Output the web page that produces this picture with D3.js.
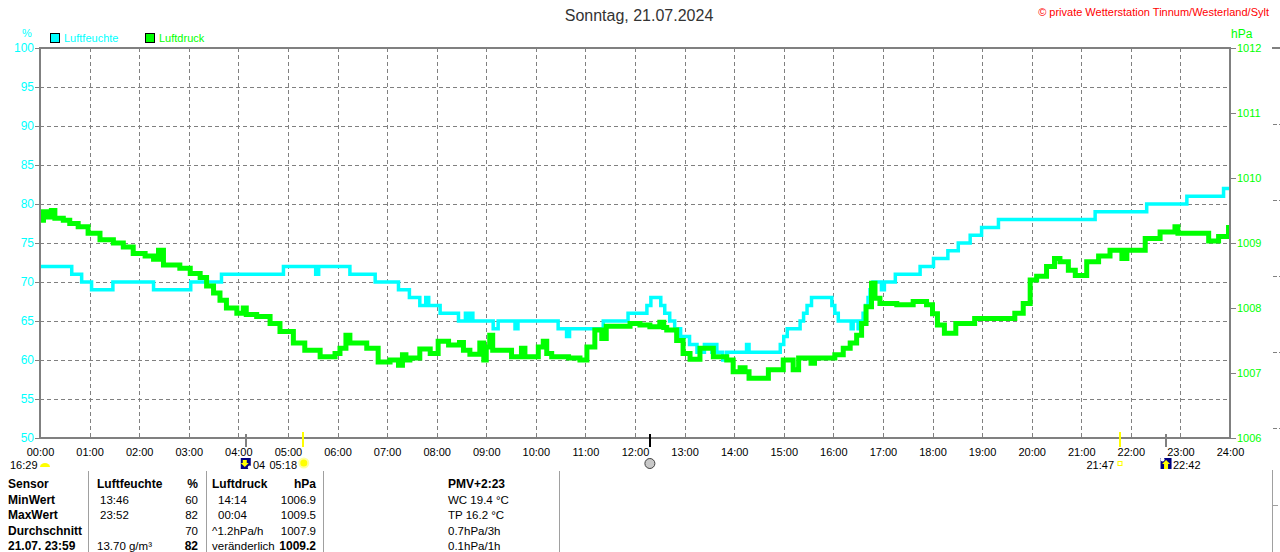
<!DOCTYPE html>
<html><head><meta charset="utf-8">
<script src="https://cdn.jsdelivr.net/npm/d3@7/dist/d3.min.js"></script>
<style>
html,body{margin:0;padding:0;background:#fff;}
svg{display:block;font-family:"Liberation Sans",Arial,sans-serif;}
</style></head><body>
<svg id="c" width="1280" height="552"></svg>
<script>
// ---------- DATA ----------
const title = "Sonntag, 21.07.2024";
const copyright = "\u00A9 private Wetterstation Tinnum/Westerland/Sylt";
const seriesNames = ["Luftfeuchte", "Luftdruck"];
const hourTicks = d3.range(0, 25);
const humTicks = [50, 55, 60, 65, 70, 75, 80, 85, 90, 95, 100];
const presTicks = [1006, 1007, 1008, 1009, 1010, 1011, 1012];

// humidity (%) step series: [hour, value]
const humidity = [
 [0.00,72],[0.64,71],[0.84,70],[1.04,69],[1.47,70],[2.29,69],[3.04,70],[3.66,71],[4.91,72],
 [5.56,71],[5.62,72],[6.25,71],[6.76,70],[7.23,69],[7.45,68],[7.66,67],[7.78,68],[7.84,67],
 [8.07,66],[8.44,65],[8.58,66],[8.63,65],[8.68,66],[8.73,65],[9.14,64],[9.24,65],[9.58,64],
 [9.64,65],[10.45,64],[10.62,63],[10.68,64],[11.36,65],[11.86,66],[12.24,67],[12.32,68],
 [12.52,67],[12.60,66],[12.70,65],[12.80,64],[12.92,63],[13.10,62],[13.25,61],[13.40,62],
 [13.55,61],[13.60,62],[13.65,61],[13.77,60],[13.85,61],[14.25,62],[14.30,61],[14.93,62],
 [15.00,63],[15.07,64],[15.33,65],[15.40,66],[15.47,67],[15.56,68],[15.97,67],[16.03,66],
 [16.10,65],[16.36,64],[16.40,65],[16.50,64],[16.54,65],[16.60,66],[16.65,67],[16.70,68],
 [16.74,69],[16.80,70],[16.97,69],[17.03,70],[17.25,71],[17.75,72],[18.02,73],[18.31,74],
 [18.52,75],[18.76,76],[18.99,77],[19.33,78],[21.28,79],[22.32,80],[23.13,81],[23.87,82],[24.00,82]
];

// air pressure (hPa): [hour, value]
const pressure = [
 [0.00,1009.35],[0.07,1009.48],[0.13,1009.40],[0.23,1009.50],[0.30,1009.38],[0.47,1009.35],
 [0.60,1009.30],[0.77,1009.25],[0.97,1009.15],[1.21,1009.05],[1.48,1009.00],[1.68,1008.94],
 [1.88,1008.84],[2.12,1008.80],[2.29,1008.75],[2.39,1008.89],[2.49,1008.66],[2.82,1008.61],
 [3.03,1008.53],[3.23,1008.47],[3.36,1008.34],[3.50,1008.23],[3.63,1008.12],[3.76,1008.00],
 [3.97,1007.92],[4.10,1008.00],[4.16,1007.90],[4.37,1007.87],[4.64,1007.76],[4.84,1007.64],
 [5.11,1007.46],[5.34,1007.35],[5.65,1007.25],[5.95,1007.30],[6.05,1007.38],[6.17,1007.58],
 [6.25,1007.46],[6.59,1007.38],[6.82,1007.17],[7.06,1007.20],[7.23,1007.12],[7.31,1007.28],
 [7.38,1007.20],[7.46,1007.23],[7.66,1007.37],[7.87,1007.30],[8.03,1007.49],[8.24,1007.43],
 [8.46,1007.47],[8.54,1007.35],[8.67,1007.29],[8.87,1007.46],[8.95,1007.20],[9.00,1007.40],
 [9.07,1007.58],[9.13,1007.35],[9.24,1007.35],[9.51,1007.25],[9.71,1007.38],[9.78,1007.25],
 [10.05,1007.40],[10.15,1007.49],[10.22,1007.30],[10.32,1007.25],[10.66,1007.23],[10.89,1007.20],
 [11.03,1007.40],[11.19,1007.66],[11.33,1007.53],[11.42,1007.72],[11.90,1007.76],[12.10,1007.74],
 [12.30,1007.71],[12.50,1007.78],[12.58,1007.70],[12.64,1007.66],[12.84,1007.50],[12.97,1007.30],
 [13.11,1007.21],[13.31,1007.38],[13.58,1007.25],[13.85,1007.20],[13.98,1007.02],[14.12,1007.08],
 [14.22,1007.02],[14.30,1006.92],[14.69,1007.05],[14.99,1007.20],[15.19,1007.05],[15.30,1007.23],
 [15.55,1007.15],[15.62,1007.23],[16.03,1007.28],[16.20,1007.38],[16.34,1007.46],[16.47,1007.58],
 [16.57,1007.76],[16.66,1008.02],[16.77,1008.38],[16.84,1008.15],[16.94,1008.07],[17.28,1008.05],
 [17.61,1008.10],[17.88,1008.05],[18.00,1007.91],[18.10,1007.74],[18.24,1007.61],[18.47,1007.76],
 [18.85,1007.84],[19.66,1007.92],[19.83,1008.07],[19.97,1008.43],[20.10,1008.49],[20.30,1008.64],
 [20.46,1008.76],[20.57,1008.71],[20.74,1008.58],[20.88,1008.50],[21.11,1008.71],[21.35,1008.80],
 [21.58,1008.89],[21.82,1008.76],[21.92,1008.89],[22.29,1009.07],[22.59,1009.17],[22.89,1009.25],
 [22.95,1009.15],[23.57,1009.03],[23.77,1009.10],[23.97,1009.24],[24.00,1009.24]
];

// astronomical markers below the axis: [hour, kind]
const markers = [[4.15,"moonset"],[5.30,"sunrise"],[12.30,"noon"],[21.78,"sunset"],[22.70,"moonrise"]];
const markerLabels = [["16:29",10,"start"],["04",253,"start"],["05:18",297,"end"],["21:47",1114,"end"],["22:42",1173,"start"]];

// statistics table
const tableRows = [
 ["Sensor","","Luftfeuchte","%","","Luftdruck","hPa","PMV+2:23"],
 ["MinWert","13:46","","60","14:14","","1006.9","WC 19.4 \u00B0C"],
 ["MaxWert","23:52","","82","00:04","","1009.5","TP 16.2 \u00B0C"],
 ["Durchschnitt","","","70","","^1.2hPa/h","1007.9","0.7hPa/3h"],
 ["21.07. 23:59","","13.70 g/m\u00B3","82","","ver\u00E4nderlich","1009.2","0.1hPa/1h"]
];

// ---------- DRAW ----------
const svg = d3.select("#c");
const L = 40, R = 1230, T = 48, B = 438;
const x = d3.scaleLinear().domain([0,24]).range([L,R]);
const yH = d3.scaleLinear().domain([50,100]).range([B,T]);
const yP = d3.scaleLinear().domain([1006,1012]).range([B,T]);
const grey = "#808080", cyan = "#00FFFF", green = "#00FF00";
const FS = 11;

// title & copyright
svg.append("text").attr("x",639).attr("y",21).attr("text-anchor","middle")
  .attr("font-size",16).attr("fill","#333").text(title);
svg.append("text").attr("x",1269).attr("y",16).attr("text-anchor","end")
  .attr("font-size",11).attr("fill","#ff0000").text(copyright);

// units
svg.append("text").attr("x",27).attr("y",37).attr("text-anchor","middle").attr("font-size",11).attr("fill",cyan).text("%");
svg.append("text").attr("x",1231).attr("y",38).attr("font-size",12).attr("fill",green).text("hPa");

// legend
const leg = [[50,64,cyan],[145,159,green]];
leg.forEach((l,i)=>{
  svg.append("rect").attr("x",l[0]+0.5).attr("y",33.5).attr("width",9).attr("height",9)
    .attr("fill",l[2]).attr("stroke","#000").attr("stroke-width",1);
  svg.append("text").attr("x",l[1]).attr("y",42).attr("font-size",11).attr("fill",l[2]).text(seriesNames[i]);
});

// grid
const g = svg.append("g");
g.selectAll(".vg").data(hourTicks.filter(h=>h>0&&h<24)).join("line")
  .attr("x1",d=>Math.round(x(d))+0.5).attr("x2",d=>Math.round(x(d))+0.5).attr("y1",T).attr("y2",B)
  .attr("stroke",grey).attr("stroke-width",1).attr("stroke-dasharray","4,3");
g.selectAll(".hg").data(humTicks.filter(v=>v>50&&v<100)).join("line")
  .attr("x1",L).attr("x2",R).attr("y1",d=>Math.round(yH(d))+0.5).attr("y2",d=>Math.round(yH(d))+0.5)
  .attr("stroke",grey).attr("stroke-width",1).attr("stroke-dasharray","4,3");

// left axis
const ax = d3.axisLeft(yH).tickValues(humTicks).tickSize(5).tickPadding(1).tickFormat(d3.format("d"));
const gl = svg.append("g").attr("transform",`translate(${L},0)`).call(ax);
gl.select(".domain").remove();
gl.selectAll("line").attr("stroke",grey);
gl.selectAll("text").attr("fill",cyan).attr("font-size",12).attr("font-family","Liberation Sans,Arial");

// right axis
const ar = d3.axisRight(yP).tickValues(presTicks).tickSize(6).tickPadding(1).tickFormat(d3.format("d"));
const gr = svg.append("g").attr("transform",`translate(${R},0)`).call(ar);
gr.select(".domain").remove();
gr.selectAll("line").attr("stroke",grey);
gr.selectAll("text").attr("fill",green).attr("font-size",FS).attr("font-family","Liberation Sans,Arial");

// bottom axis labels
const ab = d3.axisBottom(x).tickValues(hourTicks).tickSize(0).tickPadding(10)
  .tickFormat(h=>String(h).padStart(2,"0")+":00");
const gb = svg.append("g").attr("transform",`translate(0,${B})`).call(ab);
gb.select(".domain").remove();
gb.selectAll("text").attr("fill","#000").attr("font-size",FS).attr("font-family","Liberation Sans,Arial");

// lines
const lineH = d3.line().x(d=>x(d[0])).y(d=>yH(d[1])).curve(d3.curveStepAfter);
const lineP = d3.line().x(d=>x(d[0])).y(d=>yP(d[1])).curve(d3.curveStepAfter);
svg.append("path").datum(humidity).attr("d",lineH).attr("fill","none").attr("stroke",cyan).attr("stroke-width",3.5);
svg.append("path").datum(pressure).attr("d",lineP).attr("fill","none").attr("stroke",green).attr("stroke-width",5);

// frame
svg.append("path").attr("d",`M${L},${B}V${T}H${R}V${B}H${L}`).attr("fill","none").attr("stroke",grey).attr("stroke-width",2);

// markers below axis
const mcol = {moonset:grey, sunrise:"#ffff00", noon:"#000", sunset:"#ffff00", moonrise:grey};
markers.forEach(m=>{
  const mx = Math.round(x(m[0]));
  svg.append("line").attr("x1",mx).attr("x2",mx).attr("y1",m[1]==="sunrise"||m[1]==="sunset"?432:434).attr("y2",447)
    .attr("stroke",mcol[m[1]]).attr("stroke-width",2);
});
markerLabels.forEach(l=>{
  svg.append("text").attr("x",l[1]).attr("y",468.5).attr("text-anchor",l[2]).attr("font-size",FS)
    .attr("fill","#000").text(l[0]);
});
// icons
svg.append("path").attr("d","M40,467 a5,4 0 0 1 10,0 Z").attr("fill","#ffff00");
const mi = x(markers[0][0]) - 5;
svg.append("rect").attr("x",mi).attr("y",458).attr("width",10).attr("height",11).attr("fill","#000080");
svg.append("path").attr("d",`M${mi+2},460 h4 v3 h2 l-4,4 l-4,-4 h2 z`).attr("fill","#ffff00");
svg.append("circle").attr("cx",mi+9).attr("cy",467.5).attr("r",2).attr("fill","#fff");
const sx = x(markers[1][0]) + 1;
svg.append("circle").attr("cx",sx).attr("cy",463).attr("r",5.5).attr("fill","#ffffa0");
svg.append("circle").attr("cx",sx).attr("cy",463).attr("r",3.5).attr("fill","#ffff00");
const nx = x(markers[2][0]);
svg.append("circle").attr("cx",nx).attr("cy",463.5).attr("r",5).attr("fill","#c8c8c8").attr("stroke","#404040").attr("stroke-width",1);
const ux = x(markers[3][0]);
svg.append("rect").attr("x",ux-2).attr("y",461.5).attr("width",4).attr("height",4).attr("fill","none").attr("stroke","#ffff00").attr("stroke-width",1);
const ri = x(markers[4][0]) - 5;
svg.append("rect").attr("x",ri).attr("y",458).attr("width",11).attr("height",11).attr("fill","#000080");
svg.append("path").attr("d",`M${ri+5.5},460 l4,4 h-2 v5 h-4 v-5 h-2 z`).attr("fill","#ffff00");
svg.append("circle").attr("cx",ri+2).attr("cy",459.5).attr("r",2).attr("fill","#fff");

// table
const colX = [8,100,97,198,218,212,316,448];
const colAnchor = ["start","start","start","end","start","start","end","start"];
const rowY = [488,503.5,519,534.5,549.5];
tableRows.forEach((row,ri)=>{
  row.forEach((cell,ci)=>{
    if(!cell) return;
    const bold = ri===0 || ci===0 || (ri===4 && (ci===3||ci===6));
    svg.append("text").attr("x",colX[ci]).attr("y",rowY[ri]).attr("text-anchor",colAnchor[ci])
      .attr("font-size",bold?12:FS+0.5).attr("font-weight",bold?"bold":"normal").attr("fill","#000").text(cell);
  });
});
[88,206,323,559].forEach(vx=>{
  svg.append("line").attr("x1",vx+0.5).attr("x2",vx+0.5).attr("y1",471).attr("y2",552).attr("stroke","#a0a0a0");
});

// right edge fragment
svg.append("line").attr("x1",1272).attr("x2",1280).attr("y1",48).attr("y2",48).attr("stroke",grey).attr("stroke-width",2);
[124,200,276,352,428].forEach(vy=>{
  svg.append("line").attr("x1",1273).attr("x2",1280).attr("y1",vy+0.5).attr("y2",vy+0.5).attr("stroke",grey).attr("stroke-dasharray","4,2");
});
svg.append("line").attr("x1",1272.5).attr("x2",1272.5).attr("y1",470).attr("y2",552).attr("stroke","#a0a0a0");
svg.append("line").attr("x1",1273).attr("x2",1278).attr("y1",505.5).attr("y2",505.5).attr("stroke","#a0a0a0");
</script></body></html>
